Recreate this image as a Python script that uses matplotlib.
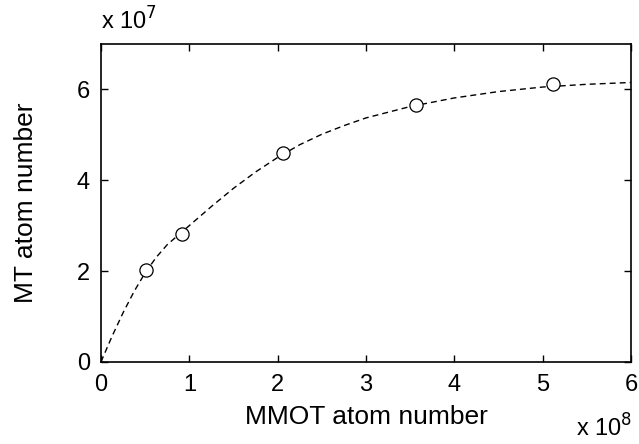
import matplotlib
matplotlib.use("Agg")
import matplotlib.pyplot as plt

plt.rcParams['font.family'] = ['Liberation Sans', 'DejaVu Sans']

# measured points (x in 1e8, y in 1e7)
mmot = [0.506, 0.914, 2.065, 3.57, 5.12]
mt = [2.03, 2.81, 4.59, 5.65, 6.12]

# fit curve
fit_x = [0, 0.125, 0.25, 0.375, 0.5, 0.625, 0.75, 0.875, 1.0, 1.25, 1.5, 1.75,
         2.0, 2.25, 2.5, 2.75, 3.0, 3.5, 4.0, 4.5, 5.0, 5.5, 6.0]
fit_y = [0, 0.56, 1.08, 1.55, 1.96, 2.30, 2.58, 2.79, 3.0, 3.42, 3.82, 4.18,
         4.50, 4.78, 5.01, 5.20, 5.37, 5.62, 5.81, 5.95, 6.05, 6.11, 6.15]

xticks = [0, 1, 2, 3, 4, 5, 6]
yticks = [0, 2, 4, 6]

fig = plt.figure(figsize=(6.39, 4.44), dpi=100)
ax = fig.add_axes([0.158, 0.185, 0.8296, 0.7162])

ax.plot(fit_x, fit_y, color="black", lw=1.0, dashes=(4.3, 2.9))
ax.plot(mmot, mt, "o", ms=9.5, mfc="white", mec="black", mew=0.9)

ax.set_xlim(0, 6)
ax.set_ylim(0, 7)
ax.set_xticks(xticks)
ax.set_yticks(yticks)
ax.tick_params(direction="in", length=5, width=1, top=True, right=True, labelsize=17)
ax.tick_params(axis="x", pad=9)
ax.tick_params(axis="y", pad=8)
for s in ax.spines.values():
    s.set_linewidth(1.2)

ax.set_xlabel("MMOT atom number", fontsize=19, labelpad=6)
ax.set_ylabel("MT atom number", fontsize=19, labelpad=28)

fig.text(0.158, 0.922, r"x 10$^7$", fontsize=17, ha="left", va="bottom")
fig.text(0.99, 0.006, r"x 10$^8$", fontsize=17, ha="right", va="bottom")

fig.savefig("out.png", dpi=100)
